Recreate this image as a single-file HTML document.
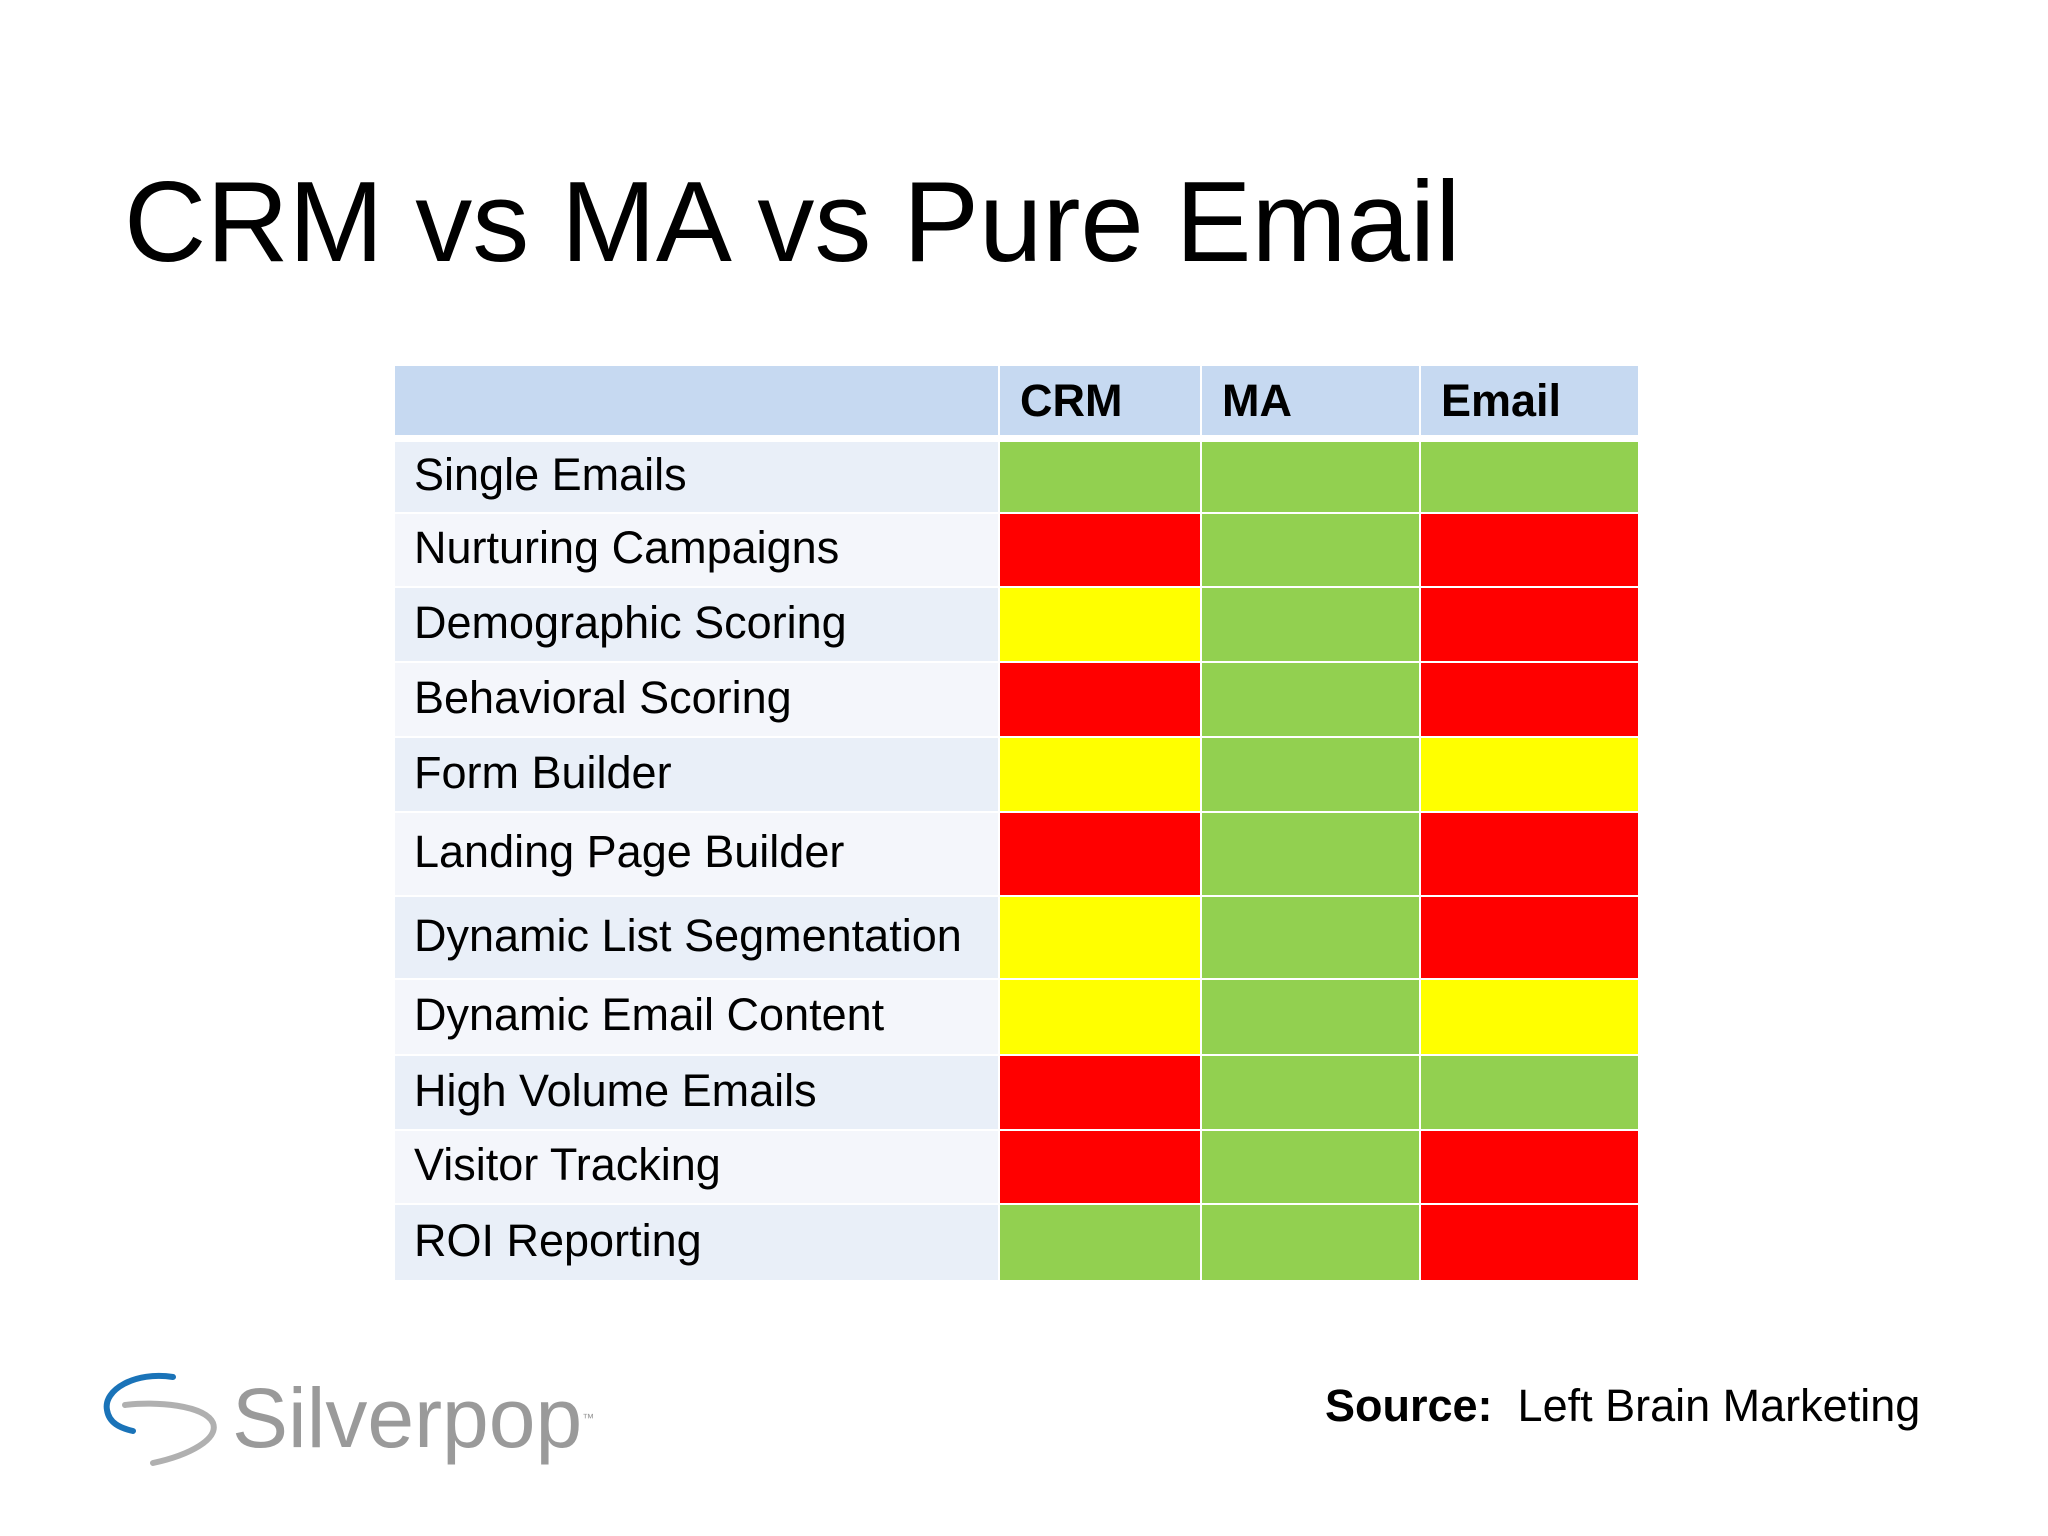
<!DOCTYPE html>
<html><head><meta charset="utf-8"><style>
body{margin:0;width:2048px;height:1536px;background:#fff;position:relative;overflow:hidden;font-family:"Liberation Sans",Arial,sans-serif;}
.abs{position:absolute;}
.cell{position:absolute;box-sizing:border-box;display:flex;align-items:center;}
</style></head><body>
<div class="abs" style="left:124px;top:160px;font-size:114px;line-height:125px;color:#000;white-space:nowrap;">CRM vs MA vs Pure Email</div>
<div id="table"></div>
<svg class="abs" style="left:95px;top:1365px" width="130" height="110" viewBox="0 0 130 110">
<path d="M78 12 C40 6 8 25 12 45 C14 58 25 63 38 66" fill="none" stroke="#1a73b8" stroke-width="6" stroke-linecap="round"/>
<path d="M30 40 C60 36 110 40 118 58 C124 74 95 90 58 98" fill="none" stroke="#b0b0b0" stroke-width="6" stroke-linecap="round"/>
</svg>
<div class="abs" style="left:232px;top:1368px;font-size:84px;line-height:100px;color:#9a9a9a;">Silverpop<span style="font-size:12px;vertical-align:top">™</span></div>
<div class="abs" style="left:1325px;top:1380px;font-size:45px;line-height:52px;color:#000;white-space:nowrap;"><b>Source:</b>&nbsp; Left Brain Marketing</div>
<script>
const rowLabels=["Single Emails","Nurturing Campaigns","Demographic Scoring","Behavioral Scoring","Form Builder","Landing Page Builder","Dynamic List Segmentation","Dynamic Email Content","High Volume Emails","Visitor Tracking","ROI Reporting"];
const columns=["CRM","MA","Email"];
const crmStatus=["g","r","y","r","y","r","y","y","r","r","g"];
const maStatus=["g","g","g","g","g","g","g","g","g","g","g"];
const emailStatus=["g","r","r","r","y","r","r","y","g","r","r"];
const colors={g:"#92d050",r:"#ff0000",y:"#ffff00"};
const rowEdges=[442,514,588,663,738,813,897,980,1056,1131,1205,1282];
const colEdges=[395,1000,1202,1421,1640];
const T=document.getElementById('table');
function mk(name,x,y,w,h,bg){const d=document.createElement('div');d.className='cell';


d.style.left=x+'px';d.style.top=y+'px';d.style.width=w+'px';d.style.height=h+'px';d.style.background=bg;T.appendChild(d);return d;}
mk('header-blank',colEdges[0],366,colEdges[1]-colEdges[0]-2,69,'#c6d9f1');
columns.forEach((c,i)=>{const d=mk('header-'+c.toLowerCase(),colEdges[i+1],366,colEdges[i+2]-colEdges[i+1]-2,69,'#c6d9f1');
d.textContent=c;d.style.fontWeight='bold';d.style.fontSize='45px';d.style.paddingLeft='20px';d.style.paddingTop='0px';});
const series=[crmStatus,maStatus,emailStatus];
rowLabels.forEach((lab,r)=>{const y=rowEdges[r],h=rowEdges[r+1]-y-2;
const d=mk('row-label',colEdges[0],y,colEdges[1]-colEdges[0]-2,h,r%2?'#f4f6fb':'#e9eff8');
d.textContent=lab;d.style.fontSize='45px';d.style.paddingLeft='19px';d.style.paddingBottom='4px';
series.forEach((s,i)=>{mk('status-'+columns[i].toLowerCase(),colEdges[i+1],y,colEdges[i+2]-colEdges[i+1]-2,h,colors[s[r]]);});});
</script>
</body></html>
